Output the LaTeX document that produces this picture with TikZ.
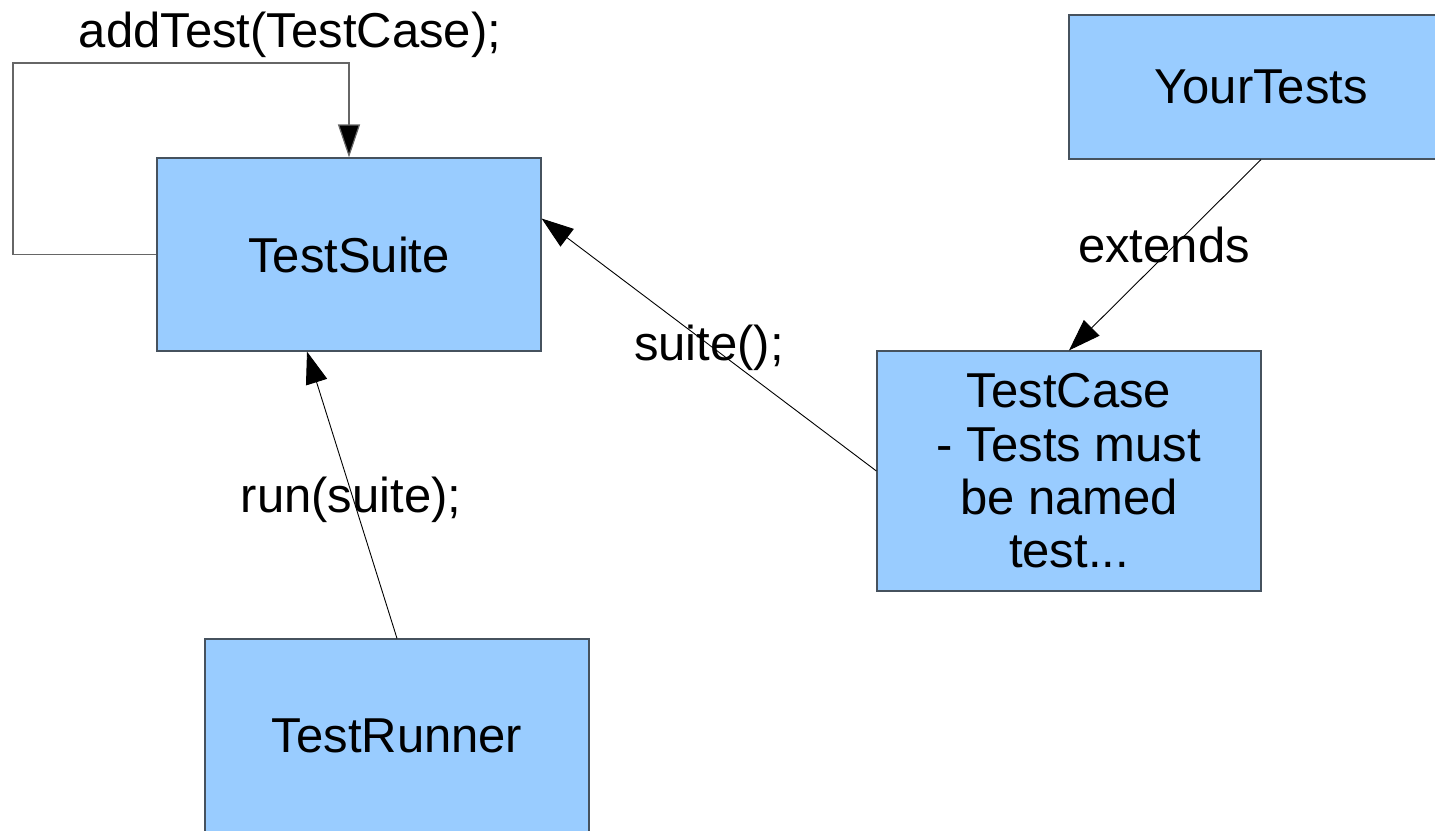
\documentclass[tikz,border=0pt]{standalone}
\usepackage{fontspec}
\setmainfont{Liberation Sans}
\usetikzlibrary{arrows.meta}
\definecolor{boxfill}{HTML}{99CCFF}
\definecolor{boxline}{HTML}{46525E}
\definecolor{loopgray}{HTML}{666666}
\begin{document}
\begin{tikzpicture}[x=1pt,y=-1pt,
  box/.style={draw=boxline, line width=1.2pt, fill=boxfill, rectangle,
    minimum width=384pt, inner sep=0pt, align=center,
    font=\fontsize{49}{53.3}\selectfont},
  lbl/.style={anchor=base, inner sep=0pt, font=\fontsize{49}{53.3}\selectfont},
  conn/.style={draw=black, line width=0.9pt, -{Triangle[length=32pt,width=22pt]}},
  loopconn/.style={draw=loopgray, line width=1.2pt, -{Triangle[length=33pt,width=22pt,fill=black]}}
]
\path[use as bounding box, clip] (0,0) rectangle (1435,830);
\fill[white] (0,0) rectangle (1435,830);

\node[box, minimum height=193pt] (ts) at (349,254.5) {TestSuite};
\node[box, minimum height=144pt] (yt) at (1261,87) {YourTests};
\node[box, minimum height=240pt] (tc) at (1069,471) {TestCase\\- Tests must\\be named\\test...};
\node[box, minimum height=193pt] (tr) at (397,735.5) {TestRunner};

\coordinate (lc) at (13,63);
\draw[loopconn] (ts.west) -| (lc) -| (ts.north);
\draw[conn] (tc.west) -- ([yshift=36pt]ts.east);
\draw[conn] (tr.north) -- ([xshift=-42pt]ts.south);
\draw[conn] (yt.south) -- (tc.north);

\node[lbl] (l1) at (290,47) {addTest(TestCase);};
\node[lbl] (l2) at (709,360) {suite();};
\node[lbl] (l3) at (1164,262) {extends};
\node[lbl] (l4) at (351,512) {run(suite);};
\end{tikzpicture}
\end{document}
